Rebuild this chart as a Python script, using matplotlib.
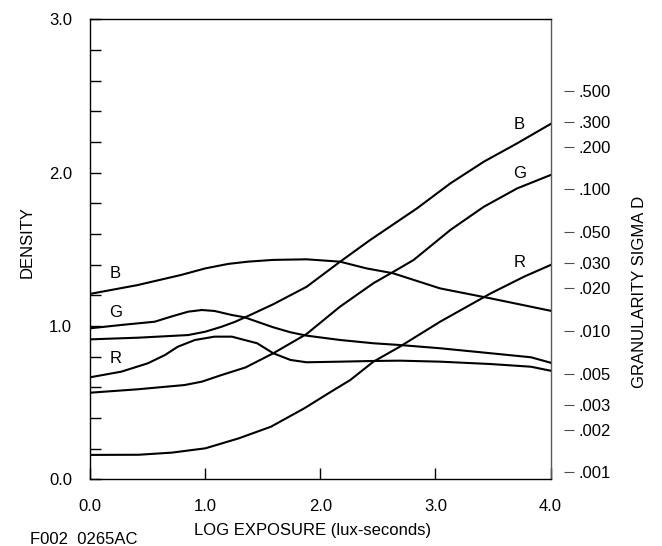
import numpy as np
import matplotlib
matplotlib.use('Agg')
import matplotlib.pyplot as plt
from matplotlib.ticker import NullLocator, MultipleLocator

plt.rcParams['font.family'] = ['Liberation Sans', 'DejaVu Sans']
plt.rcParams['font.size'] = 12

# characteristic curves: density vs log exposure
b_den_x = [0.0, 0.42, 0.85, 1.0, 1.14, 1.26, 1.37, 1.59, 1.88, 2.17, 2.43, 2.84, 3.13, 3.42, 3.71, 4.0]
b_den = [0.913, 0.924, 0.941, 0.963, 0.995, 1.028, 1.065, 1.142, 1.256, 1.419, 1.56, 1.768, 1.931, 2.072, 2.192, 2.318]

g_den_x = [0.0, 0.41, 0.82, 0.97, 1.14, 1.35, 1.59, 1.88, 2.17, 2.46, 2.66, 2.81, 3.13, 3.42, 3.71, 4.0]
g_den = [0.565, 0.587, 0.615, 0.637, 0.680, 0.73, 0.822, 0.948, 1.126, 1.279, 1.365, 1.431, 1.627, 1.778, 1.898, 1.985]

r_den_x = [0.0, 0.42, 0.71, 1.0, 1.29, 1.57, 1.86, 2.07, 2.26, 2.46, 2.69, 3.04, 3.48, 3.77, 4.0]
r_den = [0.159, 0.160, 0.174, 0.202, 0.267, 0.343, 0.463, 0.561, 0.648, 0.767, 0.865, 1.028, 1.213, 1.322, 1.398]

# granularity (sigma D) curves, right log axis
b_gran_x = [0.0, 0.41, 0.79, 1.0, 1.2, 1.37, 1.59, 1.88, 2.17, 2.4, 2.63, 3.04, 3.48, 4.0]
b_gran = [0.0183, 0.0211, 0.0249, 0.0277, 0.0298, 0.0309, 0.0318, 0.0321, 0.0309, 0.0277, 0.0256, 0.0200, 0.0170, 0.0139]

g_gran_x = [0.0, 0.27, 0.56, 0.70, 0.85, 0.97, 1.08, 1.23, 1.34, 1.45, 1.59, 1.74, 1.88, 2.17, 2.46, 2.69, 3.04, 3.48, 3.83, 4.0]
g_gran = [0.01045, 0.01103, 0.01163, 0.01262, 0.01369, 0.01407, 0.01385, 0.01297, 0.01250, 0.01163,
          0.01062, 0.00979, 0.00927, 0.00864, 0.00819, 0.00796, 0.00755, 0.00696, 0.00652, 0.00597]

r_gran_x = [0.0, 0.27, 0.5, 0.65, 0.76, 0.91, 1.08, 1.23, 1.34, 1.45, 1.59, 1.74, 1.88, 2.17, 2.46, 2.69, 3.04, 3.48, 3.83, 4.0]
r_gran = [0.00471, 0.00516, 0.00591, 0.00677, 0.00774, 0.00864, 0.00912, 0.00912, 0.00864, 0.00819,
          0.00696, 0.00624, 0.00601, 0.00607, 0.00614, 0.00617, 0.00607, 0.00584, 0.00559, 0.00524]

x_ticks = [0, 1, 2, 3, 4]
x_labels = ['0.0', '1.0', '2.0', '3.0', '4.0']
y_ticks = [0, 1, 2, 3]
y_labels = ['0.0', '1.0', '2.0', '3.0']
gran_ticks = [0.5, 0.3, 0.2, 0.1, 0.05, 0.03, 0.02, 0.01, 0.005, 0.003, 0.002, 0.001]
gran_labels = ['.500', '.300', '.200', '.100', '.050', '.030', '.020', '.010', '.005', '.003', '.002', '.001']

fig = plt.figure(figsize=(6.62, 5.46), dpi=100)
ax = fig.add_axes([0.1364, 0.1222, 0.6952, 0.8421])

lw = 1.5
ax.plot(b_den_x, b_den, color='black', lw=lw)
ax.plot(g_den_x, g_den, color='black', lw=lw)
ax.plot(r_den_x, r_den, color='black', lw=lw)

ax.set_xlim(0, 4)
ax.set_ylim(0, 3)
ax.set_xticks(x_ticks)
ax.set_xticklabels(x_labels)
ax.set_yticks(y_ticks)
ax.set_yticklabels(y_labels)
ax.yaxis.set_minor_locator(MultipleLocator(0.2))
ax.tick_params(axis='both', which='both', direction='in', length=8, width=1, color='black')
ax.tick_params(axis='x', pad=14)
ax.tick_params(axis='y', which='major', pad=13)
for s in ax.spines.values():
    s.set_linewidth(1.0)
ax.spines['right'].set_color('0.35')

# curve labels
ax.text(0.22, 1.34, 'B', ha='center', va='center')
ax.text(0.22, 1.086, 'G', ha='center', va='center')
ax.text(0.22, 0.785, 'R', ha='center', va='center')
ax.text(3.73, 2.318, 'B', ha='center', va='center')
ax.text(3.73, 1.998, 'G', ha='center', va='center')
ax.text(3.73, 1.412, 'R', ha='center', va='center')

ax2 = ax.twinx()
ax2.set_yscale('log')
ax2.plot(b_gran_x, b_gran, color='black', lw=lw)
ax2.plot(g_gran_x, g_gran, color='black', lw=lw)
ax2.plot(r_gran_x, r_gran, color='black', lw=lw)
ax2.set_ylim(10 ** -3.048, 10 ** 0.2014)
ax2.set_yticks(gran_ticks)
ax2.set_yticklabels(gran_labels)
ax2.yaxis.set_minor_locator(NullLocator())
ax2.spines['right'].set_position(('outward', 9.4))
for s in ax2.spines.values():
    s.set_visible(False)
ax2.tick_params(axis='y', direction='out', length=7.2, width=0.8, pad=3.5, color='0.3')

fig.text(27 / 662, 1 - 242 / 546, 'DENSITY', rotation=90, ha='center', va='center')
fig.text(313 / 662, 1 - 530 / 546, 'LOG EXPOSURE (lux-seconds)', ha='center', va='center')
fig.text(640 / 662, 1 - 292 / 546, 'GRANULARITY SIGMA D', rotation=90, ha='center', va='center')
fig.text(30 / 662, 1 - 539.5 / 546, 'F002  0265AC', ha='left', va='center')

fig.savefig('out.png', dpi=100)
